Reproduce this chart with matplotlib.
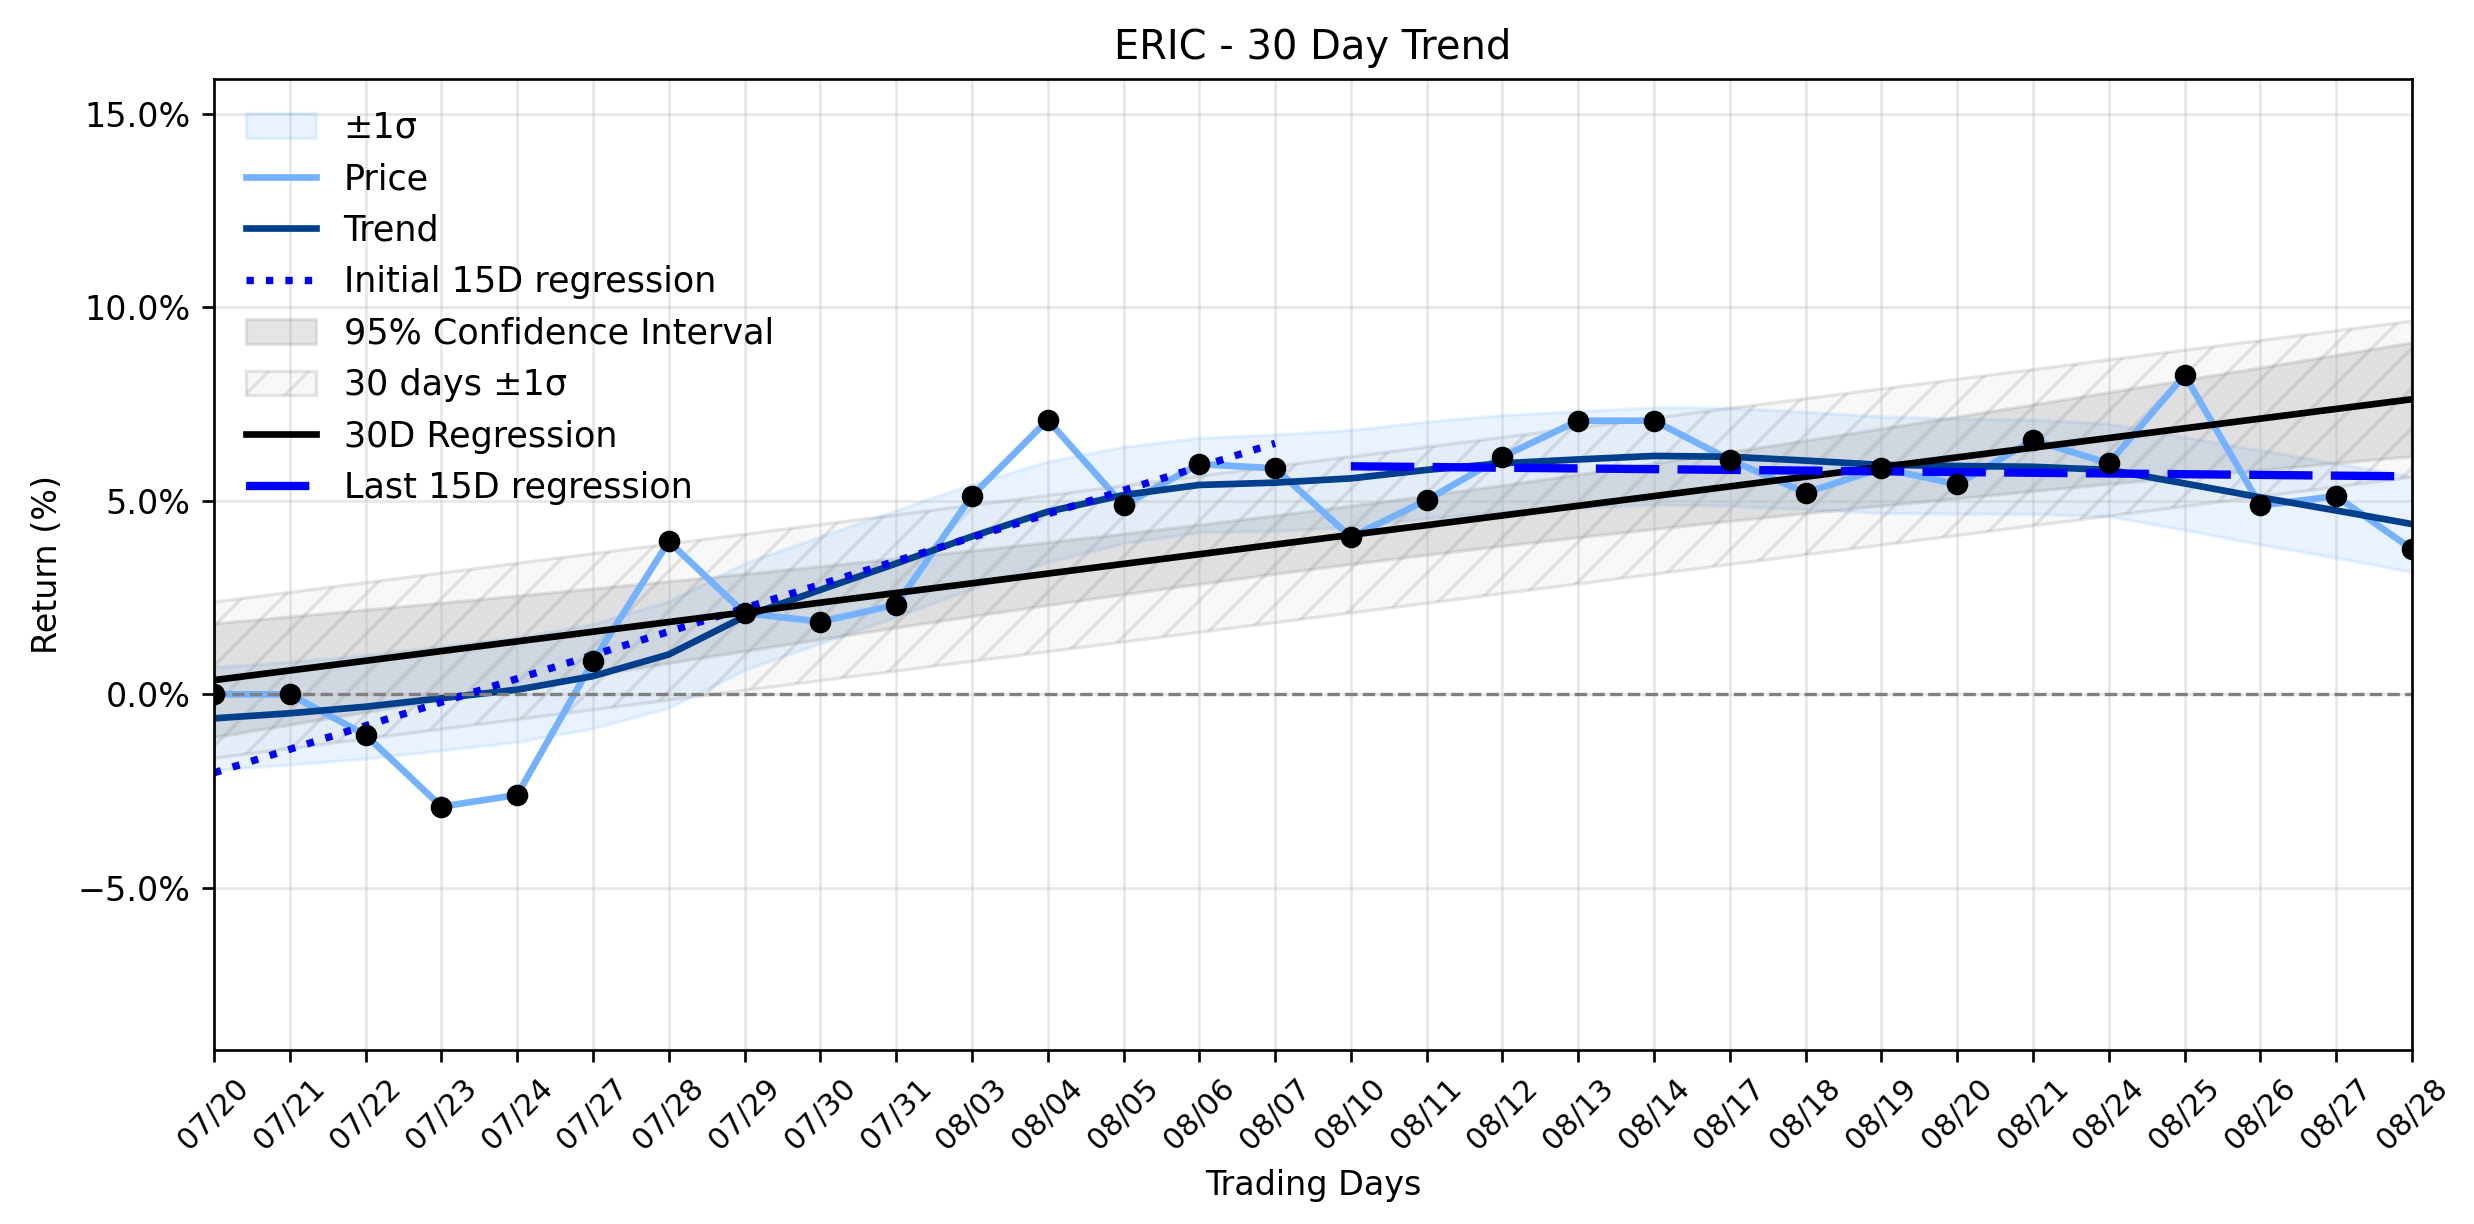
import numpy as np
import matplotlib
matplotlib.use("Agg")
import matplotlib.pyplot as plt
from matplotlib.ticker import PercentFormatter

# Dati
giorni = ["07/20", "07/21", "07/22", "07/23", "07/24", "07/27", "07/28", "07/29", "07/30", "07/31",
          "08/03", "08/04", "08/05", "08/06", "08/07", "08/10", "08/11", "08/12", "08/13", "08/14",
          "08/17", "08/18", "08/19", "08/20", "08/21", "08/24", "08/25", "08/26", "08/27", "08/28"]

rendimento = [0.0, 0.0, -1.05, -2.90, -2.60, 0.85, 3.95, 2.10, 1.88, 2.31,
              5.13, 7.09, 4.89, 5.95, 5.84, 4.06, 5.02, 6.14, 7.07, 7.07,
              6.06, 5.21, 5.84, 5.43, 6.57, 5.97, 8.25, 4.88, 5.12, 3.75]

trend = [-0.62, -0.49, -0.32, -0.10, 0.12, 0.47, 1.03, 2.01, 2.70, 3.38,
         4.08, 4.72, 5.15, 5.41, 5.47, 5.58, 5.80, 5.97, 6.07, 6.16,
         6.14, 6.04, 5.93, 5.90, 5.88, 5.80, 5.45, 5.09, 4.75, 4.40]

sigma_trend = [1.33, 1.33, 1.34, 1.35, 1.35, 1.35, 1.38, 1.38, 1.38, 1.38,
               1.35, 1.30, 1.25, 1.22, 1.25, 1.25, 1.25, 1.25, 1.25, 1.26,
               1.27, 1.26, 1.25, 1.23, 1.22, 1.20, 1.20, 1.22, 1.22, 1.24]

titolo = "ERIC - 30 Day Trend"

x = np.arange(len(giorni))
y = np.array(rendimento)
tr = np.array(trend)
sg = np.array(sigma_trend)

# Regressione sui 30 giorni
m, q = np.polyfit(x, y, 1)
retta = m * x + q
n = len(x)
s = np.sqrt(np.sum((y - retta) ** 2) / (n - 2))
t_val = 2.048
sxx = np.sum((x - x.mean()) ** 2)
ci = t_val * s * np.sqrt(1 / n + (x - x.mean()) ** 2 / sxx)

# Regressioni sui primi e ultimi 15 giorni
x1 = x[:15]
m1, q1 = np.polyfit(x1, y[:15], 1)
x2 = x[15:]
m2, q2 = np.polyfit(x2, y[15:], 1)

fig = plt.figure(figsize=(2474 / 240, 1224 / 240), dpi=240)
ax = fig.add_axes([214 / 2474, 1 - 1050 / 1224, (2412 - 214) / 2474, (1050 - 79) / 1224])

ax.fill_between(x, tr - sg, tr + sg, color="dodgerblue", alpha=0.1, label="±1σ")
ax.plot(x, y, color="#74b2ff", lw=2, label="Price")
ax.plot(x, tr, color="#003f8c", lw=2, label="Trend")
ax.plot(x1, m1 * x1 + q1, color="blue", lw=2.2, ls=":", label="Initial 15D regression")
ax.fill_between(x, retta - ci, retta + ci, color="gray", alpha=0.2, label="95% Confidence Interval")
ax.fill_between(x, retta - s, retta + s, facecolor=(0.5, 0.5, 0.5, 0.05),
                edgecolor=(0.5, 0.5, 0.5, 0.2), hatch="//", label="30 days ±1σ")
ax.plot(x, retta, color="black", lw=2, label="30D Regression")
ax.plot(x2, m2 * x2 + q2, color="blue", lw=2.5, ls=(0, (7.6, 2.2)), label="Last 15D regression")
ax.scatter(x, y, color="black", s=30, zorder=5)
ax.axhline(0, color="gray", lw=1, ls="--")

ax.set_xlim(0, 29)
ax.set_ylim(-9.19, 15.9)
ax.set_yticks([-5, 0, 5, 10, 15])
ax.yaxis.set_major_formatter(PercentFormatter(decimals=1))
ax.set_xticks(x)
ax.set_xticklabels(giorni, rotation=45, fontsize=9)
ax.grid(True, alpha=0.3)

ax.set_title(titolo, fontsize=12)
ax.set_xlabel("Trading Days")
ax.set_ylabel("Return (%)")
ax.legend(loc="upper left", frameon=False, fontsize=10.5)

fig.savefig("out.png", dpi=240)
